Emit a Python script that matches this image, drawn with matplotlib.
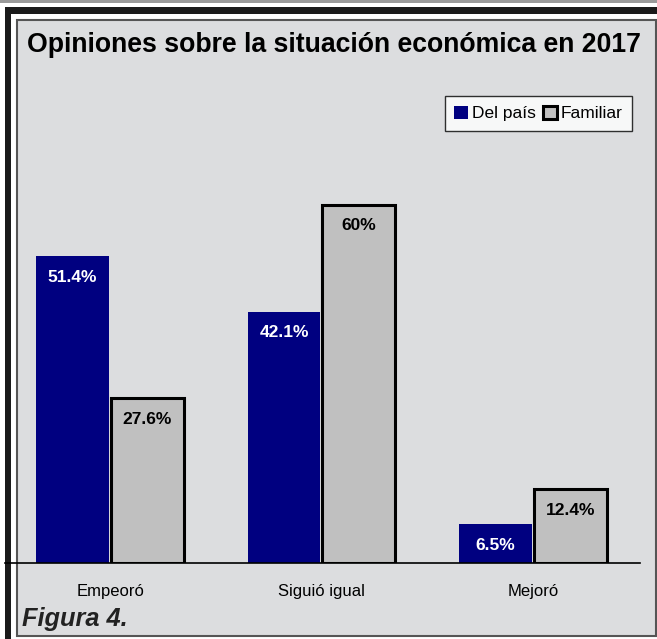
import matplotlib.pyplot as plt
from matplotlib.patches import Rectangle
import numpy as np

categorias = ["Empeoró", "Siguió igual", "Mejoró"]
del_pais = [51.4, 42.1, 6.5]
familiar = [27.6, 60, 12.4]
etiquetas_pais = ["51.4%", "42.1%", "6.5%"]
etiquetas_familiar = ["27.6%", "60%", "12.4%"]

plt.rcParams['font.family'] = ['Liberation Sans', 'DejaVu Sans']

W, H = 657, 639
fig = plt.figure(figsize=(W / 100, H / 100), dpi=100)
fig.patch.set_facecolor('white')


def caja(x0, y0, x1, y1, **kw):
    # rectangulo en pixeles (origen arriba a la izquierda), detras de los ejes
    fig.patches.append(Rectangle((x0 / W, 1 - y1 / H), (x1 - x0) / W, (y1 - y0) / H,
                                 transform=fig.transFigure, zorder=-10, **kw))


# marco de la figura
caja(0, 0, W, 3, facecolor='#9a9a9a', edgecolor='none')
caja(5, 7, W, 14, facecolor='#1a1a1a', edgecolor='none')
caja(5, 7, 11, H, facecolor='#1a1a1a', edgecolor='none')
caja(17, 20, 656, 636, facecolor='#dcdddf', edgecolor='#555555', linewidth=1.5)

ax = fig.add_axes([5 / W, 1 - 563 / H, 635 / W, 498 / H])
ax.set_facecolor('none')

x = np.arange(len(categorias))
ancho = 0.345
b1 = ax.bar(x - 0.178, del_pais, ancho, color='#000080', label='Del país')
b2 = ax.bar(x + 0.175, familiar, ancho, color='#c0c0c0', edgecolor='black',
            linewidth=2.2, label='Familiar')

for rect, txt in zip(b1, etiquetas_pais):
    ax.text(rect.get_x() + rect.get_width() / 2, rect.get_height() - 2.3, txt,
            ha='center', va='top', color='white', fontsize=12.5, fontweight='bold')
for rect, txt in zip(b2, etiquetas_familiar):
    ax.text(rect.get_x() + rect.get_width() / 2, rect.get_height() - 2.3, txt,
            ha='center', va='top', color='black', fontsize=12.5, fontweight='bold')

ax.set_xlim(-0.497, 2.505)
ax.set_ylim(0, 83.4)
ax.set_xticks(x)
ax.set_xticklabels(categorias, fontsize=12)
ax.tick_params(axis='x', length=0, pad=15)
ax.set_yticks([])
for s in ['top', 'right', 'left']:
    ax.spines[s].set_visible(False)
ax.spines['bottom'].set_linewidth(1.2)

leg = ax.legend(loc='upper right', bbox_to_anchor=(627 / 635, 1 - 31 / 498),
                ncol=2, fontsize=12.5, frameon=True, fancybox=False, handlelength=0.8,
                handleheight=0.8, handletextpad=0.2, columnspacing=0.45,
                borderpad=0.55, borderaxespad=0)
leg.get_frame().set_edgecolor('black')
leg.get_frame().set_linewidth(1)
leg.get_frame().set_facecolor('white')

fig.text(334 / W, 1 - 45 / H, 'Opiniones sobre la situación económica en 2017',
         ha='center', va='center', fontsize=19.2, fontweight='bold')
fig.text(22 / W, 1 - 619 / H, 'Figura 4.', ha='left', va='center', fontsize=18.3,
         fontweight='bold', fontstyle='italic', color='#222222')

fig.savefig('out.png', dpi=100)
